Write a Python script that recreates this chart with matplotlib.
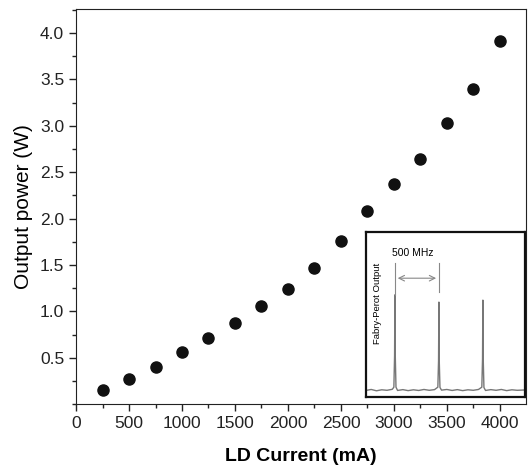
import matplotlib
matplotlib.use("Agg")
import matplotlib.pyplot as plt
from matplotlib.ticker import MultipleLocator

plt.rcParams['font.family'] = ['Liberation Sans', 'DejaVu Sans']

# LD current vs output power
current = [250, 500, 750, 1000, 1250, 1500, 1750, 2000,
           2250, 2500, 2750, 3000, 3250, 3500, 3750, 4000]
power = [0.155, 0.27, 0.40, 0.56, 0.71, 0.87, 1.06, 1.24,
         1.47, 1.76, 2.08, 2.37, 2.64, 3.03, 3.40, 3.91]

# Fabry-Perot trace (inset), x in MHz, y in arbitrary units
fp_x = [0, 60, 120, 180, 240, 300, 318, 326, 330, 334, 342, 360,
        420, 480, 540, 600, 660, 720, 780, 818, 826, 830, 834, 842, 860,
        920, 980, 1040, 1100, 1160, 1220, 1280, 1318, 1326, 1330, 1334, 1342, 1360,
        1420, 1480, 1540, 1600, 1660, 1720, 1807]
fp_y = [0.040, 0.046, 0.038, 0.044, 0.041, 0.047, 0.060, 0.25, 0.62, 0.25, 0.060, 0.040,
        0.045, 0.039, 0.044, 0.040, 0.046, 0.041, 0.045, 0.060, 0.22, 0.576, 0.22, 0.058, 0.042,
        0.046, 0.040, 0.045, 0.039, 0.044, 0.041, 0.046, 0.060, 0.23, 0.588, 0.23, 0.058, 0.040,
        0.045, 0.041, 0.046, 0.039, 0.044, 0.041, 0.043]
fsr_left, fsr_right = 330, 830

fig = plt.figure(figsize=(5.28, 4.71), dpi=100)
ax = fig.add_axes([0.144, 0.142, 0.852, 0.839])

ax.plot(current, power, 'o', color='#111111', markersize=8)
ax.set_xlim(0, 4245)
ax.set_ylim(0, 4.26)
ax.xaxis.set_major_locator(MultipleLocator(500))
ax.xaxis.set_minor_locator(MultipleLocator(250))
ax.yaxis.set_minor_locator(MultipleLocator(0.25))
ax.set_yticks([0.5, 1.0, 1.5, 2.0, 2.5, 3.0, 3.5, 4.0])
ax.tick_params(which='major', direction='out', length=5, width=1, labelsize=12.5, colors='#222222')
ax.tick_params(which='minor', direction='out', length=3, width=1, colors='#222222')
for s in ax.spines.values():
    s.set_color('#222222')
ax.set_xlabel('LD Current (mA)', fontsize=14, fontweight='bold', labelpad=12)
ax.set_ylabel('Output power (W)', fontsize=15, labelpad=5)

# inset
ins = fig.add_axes([0.693, 0.157, 0.301, 0.350])
ins.plot(fp_x, fp_y, color='#777777', lw=1)
ins.set_xlim(0, 1807)
ins.set_ylim(0, 1)
ins.set_xticks([])
ins.set_yticks([])
for s in ins.spines.values():
    s.set_linewidth(1.6)
    s.set_color('#111111')
ins.plot([fsr_left, fsr_left], [0.62, 0.812], color='#888888', lw=0.8)
ins.plot([fsr_right, fsr_right], [0.636, 0.812], color='#888888', lw=0.8)
ins.annotate('', xy=(fsr_left, 0.721), xytext=(fsr_right, 0.721),
             arrowprops=dict(arrowstyle='<->', color='#888888', lw=0.8))
ins.text(534, 0.873, '500 MHz', fontsize=7.5, ha='center', va='center')
ins.text(0.07, 0.57, 'Fabry-Perot Output', fontsize=6.8, rotation=90,
         ha='center', va='center', transform=ins.transAxes)

fig.savefig('out.png', dpi=100)
